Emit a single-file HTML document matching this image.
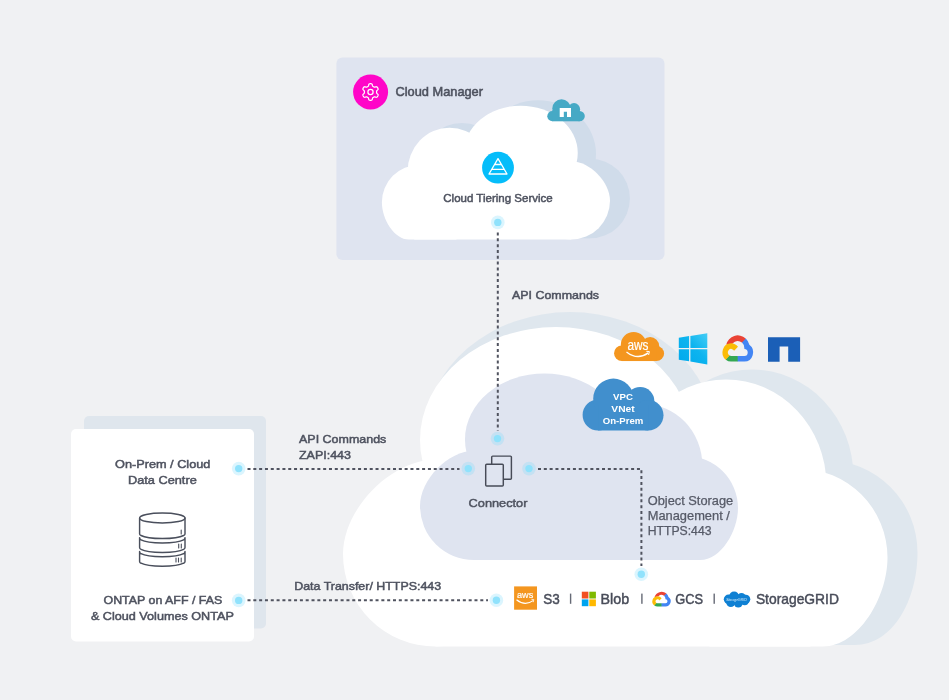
<!DOCTYPE html>
<html lang="en"><head><meta charset="utf-8"><title>Cloud Tiering architecture</title>
<style>
html,body{margin:0;padding:0;background:#f0f1f3;}
body{width:949px;height:700px;overflow:hidden;}
svg{display:block;font-family:"Liberation Sans",sans-serif;}
svg{will-change:transform;}
</style></head><body>
<svg width="949" height="700" viewBox="0 0 949 700">
<defs><linearGradient id="wg" x1="0" y1="1" x2="1" y2="0"><stop offset="0" stop-color="#00a8ec"/><stop offset="0.55" stop-color="#0db4ef"/><stop offset="1" stop-color="#45cdf5"/></linearGradient></defs>
<rect width="949" height="700" fill="#f0f1f3"/>
<rect x="336.4" y="57.5" width="328.1" height="202.6" rx="6" fill="#dfe4f0"/>
<g fill="#d0dcea"><ellipse cx="538" cy="154" rx="58" ry="53.7"/><ellipse cx="462" cy="163" rx="41" ry="40"/><circle cx="590.1" cy="198.5" r="39.8"/><rect x="460" y="165" width="130" height="73.3"/></g>
<g fill="#fff" transform="translate(610,239.5) scale(-0.41894,0.41894) translate(-343,-646.5)"><path d="M343 554 C343 509 391 459.5 436 459.5 H528 V554 A92.5 92.5 0 0 1 343 554Z"/><ellipse cx="556" cy="440" rx="136" ry="113"/><ellipse cx="726" cy="485" rx="100.4" ry="105.5"/><path d="M709.5 557.5 A89 89 0 0 1 887.5 557.5 C887.5 598 858 646.5 823 646.5 H709.5Z"/><rect x="435.5" y="480" width="375" height="166.5"/></g>
<rect x="84" y="416" width="182" height="212.5" rx="5" fill="#dfe6ed"/>
<rect x="71" y="429" width="183" height="212.5" rx="5" fill="#fff"/>
<g fill="#dfe7ee"><ellipse cx="570" cy="436" rx="145" ry="124"/><ellipse cx="752" cy="477" rx="101.5" ry="107.5"/><path d="M732.5 552.5 A92.5 92.5 0 0 1 917.5 552.5 C917.5 600 893 645 855 645 H732.5Z"/><rect x="470" y="480" width="380" height="165"/></g>
<g fill="#fff" transform="translate(343,646.5) scale(1.00000,1.00000) translate(-343,-646.5)"><path d="M343 554 C343 509 391 459.5 436 459.5 H528 V554 A92.5 92.5 0 0 1 343 554Z"/><ellipse cx="556" cy="440" rx="136" ry="113"/><ellipse cx="726" cy="485" rx="100.4" ry="105.5"/><path d="M709.5 557.5 A89 89 0 0 1 887.5 557.5 C887.5 598 858 646.5 823 646.5 H709.5Z"/><rect x="435.5" y="480" width="375" height="166.5"/></g>
<g fill="#dfe4f0" transform="translate(420,560) scale(0.58400,0.58400) translate(-343,-646.5)"><path d="M343 554 C343 509 391 459.5 436 459.5 H528 V554 A92.5 92.5 0 0 1 343 554Z"/><ellipse cx="556" cy="440" rx="136" ry="113"/><ellipse cx="726" cy="485" rx="100.4" ry="105.5"/><path d="M709.5 557.5 A89 89 0 0 1 887.5 557.5 C887.5 598 858 646.5 823 646.5 H709.5Z"/><rect x="435.5" y="480" width="375" height="166.5"/></g>
<path d="M497.8 232.5V431" fill="none" stroke="#50535f" stroke-width="2" stroke-dasharray="3 2.82"/>
<path d="M247.5 468.9H459.5" fill="none" stroke="#50535f" stroke-width="2" stroke-dasharray="3 2.82"/>
<path d="M247.5 600.3H488" fill="none" stroke="#50535f" stroke-width="2" stroke-dasharray="3 2.82"/>
<path d="M538 468.9H641.4V566" fill="none" stroke="#50535f" stroke-width="2" stroke-dasharray="3 2.82"/>
<circle cx="497.8" cy="222.4" r="6.8" fill="#7fdcfb" opacity="0.28"/><circle cx="497.8" cy="222.4" r="3.7" fill="#90e2fc"/>
<circle cx="497.5" cy="438.6" r="6.8" fill="#7fdcfb" opacity="0.28"/><circle cx="497.5" cy="438.6" r="3.7" fill="#90e2fc"/>
<circle cx="468.3" cy="468.6" r="6.8" fill="#7fdcfb" opacity="0.28"/><circle cx="468.3" cy="468.6" r="3.7" fill="#90e2fc"/>
<circle cx="529" cy="468.6" r="6.8" fill="#7fdcfb" opacity="0.28"/><circle cx="529" cy="468.6" r="3.7" fill="#90e2fc"/>
<circle cx="238.7" cy="468.6" r="6.8" fill="#7fdcfb" opacity="0.28"/><circle cx="238.7" cy="468.6" r="3.7" fill="#90e2fc"/>
<circle cx="238.7" cy="600.4" r="6.8" fill="#7fdcfb" opacity="0.28"/><circle cx="238.7" cy="600.4" r="3.7" fill="#90e2fc"/>
<circle cx="496.4" cy="600.2" r="6.8" fill="#7fdcfb" opacity="0.28"/><circle cx="496.4" cy="600.2" r="3.7" fill="#90e2fc"/>
<circle cx="641.3" cy="574.3" r="6.8" fill="#7fdcfb" opacity="0.28"/><circle cx="641.3" cy="574.3" r="3.7" fill="#90e2fc"/>
<text x="395.5" y="95.9" font-size="12.8" text-anchor="start" fill="#4e525f" font-weight="normal" stroke="#4e525f" stroke-width="0.55" textLength="87.5" lengthAdjust="spacingAndGlyphs">Cloud Manager</text>
<text x="498" y="201.6" font-size="11.6" text-anchor="middle" fill="#4e525f" font-weight="normal" stroke="#4e525f" stroke-width="0.5" textLength="109.5" lengthAdjust="spacingAndGlyphs">Cloud Tiering Service</text>
<text x="512" y="298.9" font-size="11.8" text-anchor="start" fill="#4e525f" font-weight="normal" stroke="#4e525f" stroke-width="0.5" textLength="87" lengthAdjust="spacingAndGlyphs">API Commands</text>
<text x="299" y="443.1" font-size="11.8" text-anchor="start" fill="#4e525f" font-weight="normal" stroke="#4e525f" stroke-width="0.5" textLength="87.3" lengthAdjust="spacingAndGlyphs">API Commands</text>
<text x="299" y="458.5" font-size="11.8" text-anchor="start" fill="#4e525f" font-weight="normal" stroke="#4e525f" stroke-width="0.5" textLength="52" lengthAdjust="spacingAndGlyphs">ZAPI:443</text>
<text x="294.2" y="590.2" font-size="11.8" text-anchor="start" fill="#4e525f" font-weight="normal" stroke="#4e525f" stroke-width="0.5" textLength="147" lengthAdjust="spacingAndGlyphs">Data Transfer/ HTTPS:443</text>
<text x="162.7" y="467.5" font-size="11.8" text-anchor="middle" fill="#4e525f" font-weight="normal" stroke="#4e525f" stroke-width="0.5" textLength="95.4" lengthAdjust="spacingAndGlyphs">On-Prem / Cloud</text>
<text x="162.4" y="484" font-size="11.8" text-anchor="middle" fill="#4e525f" font-weight="normal" stroke="#4e525f" stroke-width="0.5" textLength="68.7" lengthAdjust="spacingAndGlyphs">Data Centre</text>
<text x="162.9" y="603.5" font-size="11.8" text-anchor="middle" fill="#4e525f" font-weight="normal" stroke="#4e525f" stroke-width="0.5" textLength="118.8" lengthAdjust="spacingAndGlyphs">ONTAP on AFF / FAS</text>
<text x="162.4" y="620.2" font-size="11.8" text-anchor="middle" fill="#4e525f" font-weight="normal" stroke="#4e525f" stroke-width="0.5" textLength="143" lengthAdjust="spacingAndGlyphs">&amp; Cloud Volumes ONTAP</text>
<text x="498" y="507" font-size="11.5" text-anchor="middle" fill="#4e525f" font-weight="normal" stroke="#4e525f" stroke-width="0.45" textLength="58.8" lengthAdjust="spacingAndGlyphs">Connector</text>
<text x="647.7" y="504.9" font-size="11.9" text-anchor="start" fill="#565a67" font-weight="normal" stroke="#565a67" stroke-width="0.25" textLength="85.5" lengthAdjust="spacingAndGlyphs">Object Storage</text>
<text x="647.7" y="520.1" font-size="11.9" text-anchor="start" fill="#565a67" font-weight="normal" stroke="#565a67" stroke-width="0.25" textLength="82.2" lengthAdjust="spacingAndGlyphs">Management /</text>
<text x="647.7" y="535.2" font-size="11.9" text-anchor="start" fill="#565a67" font-weight="normal" stroke="#565a67" stroke-width="0.25" textLength="63.8" lengthAdjust="spacingAndGlyphs">HTTPS:443</text>
<text x="543.2" y="603.7" font-size="14.4" text-anchor="start" fill="#484c59" font-weight="normal" stroke="#484c59" stroke-width="0.45" textLength="16.5" lengthAdjust="spacingAndGlyphs">S3</text>
<text x="600.5" y="603.7" font-size="14.4" text-anchor="start" fill="#484c59" font-weight="normal" stroke="#484c59" stroke-width="0.45" textLength="28.6" lengthAdjust="spacingAndGlyphs">Blob</text>
<text x="675.2" y="603.7" font-size="14.4" text-anchor="start" fill="#484c59" font-weight="normal" stroke="#484c59" stroke-width="0.45" textLength="27.8" lengthAdjust="spacingAndGlyphs">GCS</text>
<text x="755.9" y="603.7" font-size="14.4" text-anchor="start" fill="#484c59" font-weight="normal" stroke="#484c59" stroke-width="0.45" textLength="83" lengthAdjust="spacingAndGlyphs">StorageGRID</text>
<rect x="569.9" y="593.6" width="1.4" height="10.2" fill="#666a76"/>
<rect x="641.1999999999999" y="593.6" width="1.4" height="10.2" fill="#666a76"/>
<rect x="713.5" y="593.6" width="1.4" height="10.2" fill="#666a76"/>
<circle cx="370.6" cy="92" r="17.5" fill="#ff05c8"/>
<path d="M376.60 92.00 L376.60 92.27 L376.60 92.53 L376.62 92.81 L376.70 93.09 L376.96 93.43 L377.45 93.86 L377.92 94.34 L378.11 94.77 L378.10 95.15 L378.00 95.50 L377.86 95.83 L377.69 96.15 L377.50 96.46 L377.28 96.75 L377.03 97.01 L376.71 97.21 L376.24 97.26 L375.59 97.09 L374.97 96.88 L374.55 96.82 L374.26 96.89 L374.01 97.01 L373.78 97.15 L373.55 97.28 L373.32 97.41 L373.09 97.55 L372.86 97.70 L372.65 97.92 L372.49 98.31 L372.36 98.95 L372.18 99.60 L371.91 99.98 L371.57 100.16 L371.22 100.25 L370.86 100.29 L370.50 100.30 L370.14 100.29 L369.78 100.25 L369.43 100.16 L369.09 99.98 L368.82 99.60 L368.64 98.95 L368.51 98.31 L368.35 97.92 L368.14 97.70 L367.91 97.55 L367.68 97.41 L367.45 97.28 L367.22 97.15 L366.99 97.01 L366.74 96.89 L366.45 96.82 L366.03 96.88 L365.41 97.09 L364.76 97.26 L364.29 97.21 L363.97 97.01 L363.72 96.75 L363.50 96.46 L363.31 96.15 L363.14 95.83 L363.00 95.50 L362.90 95.15 L362.89 94.77 L363.08 94.34 L363.55 93.86 L364.04 93.43 L364.30 93.09 L364.38 92.81 L364.40 92.53 L364.40 92.27 L364.40 92.00 L364.40 91.73 L364.40 91.47 L364.38 91.19 L364.30 90.91 L364.04 90.57 L363.55 90.14 L363.08 89.66 L362.89 89.23 L362.90 88.85 L363.00 88.50 L363.14 88.17 L363.31 87.85 L363.50 87.54 L363.72 87.25 L363.97 86.99 L364.29 86.79 L364.76 86.74 L365.41 86.91 L366.03 87.12 L366.45 87.18 L366.74 87.11 L366.99 86.99 L367.22 86.85 L367.45 86.72 L367.68 86.59 L367.91 86.45 L368.14 86.30 L368.35 86.08 L368.51 85.69 L368.64 85.05 L368.82 84.40 L369.09 84.02 L369.43 83.84 L369.78 83.75 L370.14 83.71 L370.50 83.70 L370.86 83.71 L371.22 83.75 L371.57 83.84 L371.91 84.02 L372.18 84.40 L372.36 85.05 L372.49 85.69 L372.65 86.08 L372.86 86.30 L373.09 86.45 L373.32 86.59 L373.55 86.72 L373.78 86.85 L374.01 86.99 L374.26 87.11 L374.55 87.18 L374.97 87.12 L375.59 86.91 L376.24 86.74 L376.71 86.79 L377.03 86.99 L377.28 87.25 L377.50 87.54 L377.69 87.85 L377.86 88.17 L378.00 88.50 L378.10 88.85 L378.11 89.23 L377.92 89.66 L377.45 90.14 L376.96 90.57 L376.70 90.91 L376.62 91.19 L376.60 91.47 L376.60 91.73Z" fill="none" stroke="#fff" stroke-width="1.25" stroke-linejoin="round"/>
<circle cx="370.5" cy="92" r="2.6" fill="none" stroke="#fff" stroke-width="1.25"/>
<circle cx="498" cy="167.7" r="15.9" fill="#05bdfa"/>
<path d="M498 158.6L507 174H489Z M492 169.4H504 M494.9 164.5H501.1" fill="none" stroke="#fff" stroke-width="1.3" stroke-linejoin="round"/>
<g fill="#46a9c5"><circle cx="552.4" cy="116.2" r="5.1"/><circle cx="561.5" cy="108.4" r="9.2"/><circle cx="574" cy="109.2" r="6.1"/><circle cx="579.6" cy="116.1" r="5.2"/><rect x="552.4" y="110" width="27.2" height="11.3"/></g>
<path d="M559.7 108H571V116.9H567V111.8H563.8V116.9H559.7Z" fill="#fff"/>
<g fill="none" stroke="#4a4f5c" stroke-width="1.45" stroke-linecap="round" stroke-linejoin="round"><ellipse cx="162.3" cy="518" rx="22.7" ry="5"/><path d="M139.6 518V534Q139.6 535.1 141 535.5A22.7 4.6 0 0 0 183.6 535.5Q185 535.1 185 534V518"/><path d="M139.6 537.6Q139.6 539.4 141 539.9A22.7 4.6 0 0 0 183.6 539.9Q185 539.4 185 537.6M139.6 537.6V547.6Q139.6 549 141 549.4A22.7 4.6 0 0 0 183.6 549.4Q185 549 185 547.6V537.6"/><path d="M139.6 551.4Q139.6 553.2 141 553.7A22.7 4.6 0 0 0 183.6 553.7Q185 553.2 185 551.4M139.6 551.4V561.4Q139.6 562.8 141 563.2A22.7 4.6 0 0 0 183.6 563.2Q185 562.8 185 561.4V551.4"/><path d="M181.2 530V534M178.7 544V548M181.3 544V548M176 558V562M178.5 558V562M181.2 558V562" stroke-width="1.1"/></g>
<g fill="none" stroke="#474b57" stroke-width="1.45" stroke-linejoin="round"><path d="M491.7 464.3V457.1Q491.7 456.1 492.7 456.1H510.4Q511.4 456.1 511.4 457.1V478.3Q511.4 479.3 510.4 479.3H503.3"/><rect x="485.7" y="464.3" width="17.6" height="21.7" rx="1"/></g>
<g fill="#418fcd"><circle cx="598.1" cy="415" r="15.5"/><circle cx="613.4" cy="398.8" r="20.2"/><circle cx="640.2" cy="401.3" r="14.2"/><circle cx="648.3" cy="415.3" r="15.2"/><rect x="598.1" y="405" width="50.2" height="25.5"/></g>
<text x="623" y="399.8" font-size="9.2" text-anchor="middle" fill="#fff" font-weight="bold" textLength="19.8" lengthAdjust="spacingAndGlyphs">VPC</text>
<text x="623" y="412" font-size="9.2" text-anchor="middle" fill="#fff" font-weight="bold" textLength="23.3" lengthAdjust="spacingAndGlyphs">VNet</text>
<text x="623" y="424.1" font-size="9.2" text-anchor="middle" fill="#fff" font-weight="bold" textLength="40.5" lengthAdjust="spacingAndGlyphs">On-Prem</text>
<g fill="#f4961f"><circle cx="621.8" cy="353.3" r="7.75"/><circle cx="633.6" cy="344.9" r="12.8"/><circle cx="650.1" cy="346.2" r="9.1"/><circle cx="656.5" cy="353.5" r="7.6"/><rect x="621.8" y="348" width="34.7" height="13.05"/></g>
<text x="638" y="349.9" font-size="14" text-anchor="middle" fill="#fff" font-weight="normal" stroke="#fff" stroke-width="0.2" textLength="21" lengthAdjust="spacingAndGlyphs">aws</text>
<path d="M626.5 351.9Q637.5 360.6 648.3 352.9" fill="none" stroke="#fff" stroke-width="1.3"/><path d="M646.3 351.3L649.4 351.6L648.6 355" fill="none" stroke="#fff" stroke-width="1"/>
<g fill="url(#wg)"><path d="M678.8 337.7L689.1 336.1V348H678.8Z M690.4 335.9L707.3 333.3V348H690.4Z M678.8 349.2H689.1V361.3L678.8 359.7Z M690.4 349.2H707.3V364.4L690.4 361.5Z"/></g>
<g transform="translate(723.1,335.5) scale(0.925,0.985)">
<path d="M20.3 7.2l1.1 0 2.9-2.9 .1-1.2A13 13 0 0 0 3.3 9.400000000000001c.3-.1 .7-.2 1-.1l5.800000000000001-1s.3-.5 .4-.5a7.2 7.2 0 0 1 9.8-.6z" fill="#ea4335"/>
<path d="M28.4 9.4a13 13 0 0 0-3.9-6.300000000000001l-4.100000000000001 4.100000000000001a7.2 7.2 0 0 1 2.6 5.7v.7a3.6 3.6 0 0 1 0 7.2h-7.2l-.7 .7v4.300000000000001l.7 .7h7.2a9.4 9.4 0 0 0 5.4-17.1z" fill="#4285f4"/>
<path d="M8.6 26.5h7.2v-5.800000000000001h-7.2a3.6 3.6 0 0 1-1.5-.3l-1 .3-2.9 2.9-.3 1a9.3 9.3 0 0 0 5.7 1.9z" fill="#34a853"/>
<path d="M8.6 7.800000000000001a9.4 9.4 0 0 0-5.7 16.8l4.2-4.2a3.6 3.6 0 1 1 4.800000000000001-4.800000000000001l4.2-4.2a9.4 9.4 0 0 0-7.5-3.6z" fill="#fbbc05"/>
</g>
<path d="M768 337.2H800.1V361.7H788.2V346.6H779.6V361.7H768Z" fill="#1b5fb7"/>
<rect x="514.1" y="586.4" width="22.9" height="23.3" fill="#f4961f"/>
<text x="525.1" y="597.7" font-size="9.8" text-anchor="middle" fill="#fff" font-weight="normal" stroke="#fff" stroke-width="0.2" textLength="16.2" lengthAdjust="spacingAndGlyphs">aws</text>
<path d="M516.5 599.8Q525 606.6 533 600.6" fill="none" stroke="#fff" stroke-width="1.15"/><path d="M531.4 599.3L533.8 599.6L533.2 602.2" fill="none" stroke="#fff" stroke-width="0.8"/>
<rect x="581.8" y="591.7" width="6.6" height="6.8" fill="#f25022"/><rect x="589.3" y="591.7" width="6.6" height="6.8" fill="#7fba00"/><rect x="581.8" y="599.4" width="6.6" height="6.8" fill="#00a4ef"/><rect x="589.3" y="599.4" width="6.6" height="6.8" fill="#ffb900"/>
<g transform="translate(652.7,591.9) scale(0.556,0.548)">
<path d="M20.3 7.2l1.1 0 2.9-2.9 .1-1.2A13 13 0 0 0 3.3 9.400000000000001c.3-.1 .7-.2 1-.1l5.800000000000001-1s.3-.5 .4-.5a7.2 7.2 0 0 1 9.8-.6z" fill="#ea4335"/>
<path d="M28.4 9.4a13 13 0 0 0-3.9-6.300000000000001l-4.100000000000001 4.100000000000001a7.2 7.2 0 0 1 2.6 5.7v.7a3.6 3.6 0 0 1 0 7.2h-7.2l-.7 .7v4.300000000000001l.7 .7h7.2a9.4 9.4 0 0 0 5.4-17.1z" fill="#4285f4"/>
<path d="M8.6 26.5h7.2v-5.800000000000001h-7.2a3.6 3.6 0 0 1-1.5-.3l-1 .3-2.9 2.9-.3 1a9.3 9.3 0 0 0 5.7 1.9z" fill="#34a853"/>
<path d="M8.6 7.800000000000001a9.4 9.4 0 0 0-5.7 16.8l4.2-4.2a3.6 3.6 0 1 1 4.800000000000001-4.800000000000001l4.2-4.2a9.4 9.4 0 0 0-7.5-3.6z" fill="#fbbc05"/>
</g>
<g fill="#0f80d3"><circle cx="734.1" cy="596.5" r="5.1"/><circle cx="741.5" cy="597.4" r="4.4"/><circle cx="728.6" cy="599.3" r="4.8"/><circle cx="745.8" cy="599.3" r="4.5"/><circle cx="730.8" cy="602.6" r="4.5"/><circle cx="738.3" cy="603" r="4.5"/><circle cx="744.7" cy="601.3" r="3.9"/><rect x="728.7" y="596" width="17" height="7"/></g>
<text x="736.4" y="600.8" font-size="3.4" fill="#d6ecfa" font-style="italic" text-anchor="middle" textLength="20.5" lengthAdjust="spacingAndGlyphs">StorageGRID</text>
</svg>
</body></html>
